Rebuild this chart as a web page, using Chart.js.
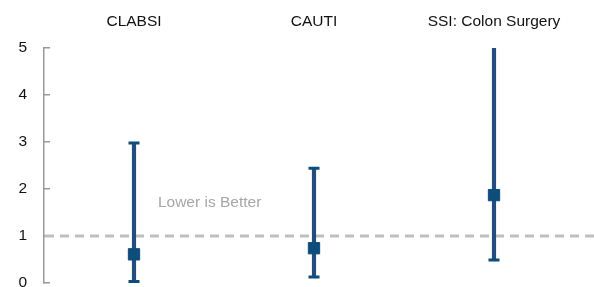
<!DOCTYPE html>
<html>
<head>
<meta charset="utf-8">
<script src="https://cdn.jsdelivr.net/npm/chart.js@4/dist/chart.umd.min.js"></script>
<style>
  html, body { margin: 0; padding: 0; background: #fff; }
</style>
</head>
<body>
<canvas id="chart" width="594" height="287"></canvas>
<script>
// Kategorier och värden
const categories = ['CLABSI', 'CAUTI', 'SSI: Colon Surgery'];
const pointValues = [0.61, 0.74, 1.87];
const lowerValues = [0.03, 0.13, 0.49];
const upperValues = [2.98, 2.44, 6.2];
const yTicks = [0, 1, 2, 3, 4, 5];
const referenceValue = 1;
const noteText = 'Lower is Better';

const lineColor = '#234d80';
const markerColor = '#0e4c7b';
const fontFamily = '"Liberation Sans", Arial, sans-serif';

// Referenslinje och texten, ritas via skalorna
const referencePlugin = {
    id: 'referenceLine',
    beforeDatasetsDraw(chart) {
        const { ctx, chartArea, scales } = chart;
        const y = scales.y.getPixelForValue(referenceValue);
        ctx.save();
        ctx.strokeStyle = '#bfbfbf';
        ctx.lineWidth = 3;
        ctx.setLineDash([9, 6]);
        ctx.beginPath();
        ctx.moveTo(chartArea.left + 1, y);
        ctx.lineTo(chart.width, y);
        ctx.stroke();
        ctx.setLineDash([]);

        ctx.fillStyle = '#a6a6a6';
        ctx.font = '15.5px ' + fontFamily;
        ctx.textAlign = 'center';
        ctx.textBaseline = 'middle';
        ctx.fillText(noteText, scales.x.getPixelForValue(0.42), scales.y.getPixelForValue(1.7));
        ctx.restore();
    }
};

new Chart(document.getElementById('chart'), {
    data: {
        labels: categories,
        datasets: [
            {
                type: 'bar',
                data: lowerValues.map((lo, i) => [lo, upperValues[i]]),
                backgroundColor: lineColor,
                barThickness: 3.5,
                order: 3
            },
            {
                type: 'line',
                data: lowerValues,
                showLine: false,
                pointStyle: 'line',
                pointRadius: 5.5,
                pointBorderWidth: 3,
                pointBorderColor: markerColor,
                order: 2
            },
            {
                type: 'line',
                data: upperValues,
                showLine: false,
                pointStyle: 'line',
                pointRadius: 5.5,
                pointBorderWidth: 3,
                pointBorderColor: markerColor,
                order: 2
            },
            {
                type: 'line',
                data: pointValues,
                showLine: false,
                pointStyle: 'rect',
                pointRadius: 8,
                pointBorderWidth: 1,
                pointBackgroundColor: markerColor,
                pointBorderColor: markerColor,
                order: 1
            }
        ]
    },
    options: {
        responsive: false,
        animation: false,
        layout: { autoPadding: false, padding: { top: 0, right: 10, bottom: 4, left: 0 } },
        plugins: {
            legend: { display: false },
            tooltip: { enabled: false }
        },
        scales: {
            x: {
                position: 'top',
                grid: { display: false, drawTicks: false },
                border: { display: false },
                ticks: {
                    color: '#111',
                    padding: 17,
                    font: { family: fontFamily, size: 15.5 }
                },
                afterFit(scale) { scale.height = 48; }
            },
            y: {
                min: 0,
                max: 5,
                afterBuildTicks(scale) { scale.ticks = yTicks.map(v => ({ value: v })); },
                grid: {
                    drawOnChartArea: false,
                    tickLength: -6,
                    color: '#999',
                    lineWidth: 1.5
                },
                border: { color: '#999', width: 1.5 },
                ticks: {
                    color: '#111',
                    padding: 23,
                    font: { family: fontFamily, size: 15.5 }
                },
                afterFit(scale) {
                    scale.width = 44;
                    scale.paddingTop = 0;
                    scale.paddingBottom = 0;
                }
            }
        }
    },
    plugins: [referencePlugin]
});
</script>
</body>
</html>
